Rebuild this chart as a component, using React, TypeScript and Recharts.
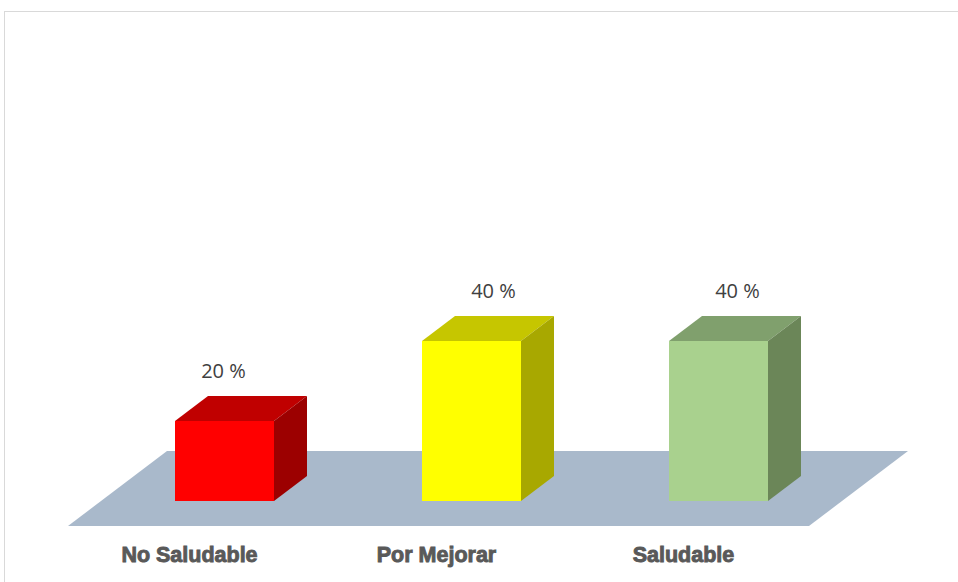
import React from 'react';
import { BarChart, Bar, XAxis, YAxis, ReferenceArea, LabelList } from 'recharts';

// Values
const categories = ['No Saludable', 'Por Mejorar', 'Saludable'];
const percentages = [20, 40, 40];
const tickValues = [0, 100];

const data = categories.map((name, i) => ({ name, value: percentages[i] }));

// front / top / side shades for each 3D box
const faces = [
  { front: '#ff0000', top: '#c00000', side: '#9c0000' },
  { front: '#ffff00', top: '#c6c600', side: '#a8a800' },
  { front: '#a9d18e', top: '#80a06d', side: '#6b8658' },
];

const DEPTH_X = 33;
const DEPTH_Y = 25;
const labelShift = [-1, 22, 19];

const Box3D = (props: any) => {
  const { x, y, width, height, index } = props;
  const c = faces[index] || faces[0];
  const r = x + width;
  const b = y + height;
  return (
    <g>
      <polygon
        points={`${x},${y} ${x + DEPTH_X},${y - DEPTH_Y} ${r + DEPTH_X},${y - DEPTH_Y} ${r},${y}`}
        fill={c.top}
      />
      <polygon
        points={`${r},${y} ${r + DEPTH_X},${y - DEPTH_Y} ${r + DEPTH_X},${b - DEPTH_Y} ${r},${b}`}
        fill={c.side}
      />
      <rect x={x} y={y} width={width} height={height} fill={c.front} />
    </g>
  );
};

// floor plane: runs from one box-depth in front of the bars to two behind
const Floor = (props: any) => {
  const { x, y, width, height } = props;
  const base = y + height;
  const topY = base - 2 * DEPTH_Y;
  const botY = base + DEPTH_Y;
  return (
    <polygon
      points={`${x + 2 * DEPTH_X},${topY} ${x + width + 2 * DEPTH_X},${topY} ${x + width - DEPTH_X},${botY} ${x - DEPTH_X},${botY}`}
      fill="#a9b9cb"
    />
  );
};

const ValueLabel = (props: any) => {
  const { x, y, width, value, index } = props;
  return (
    <text
      x={x + width / 2 + labelShift[index]}
      y={y - 51}
      textAnchor="middle"
      dominantBaseline="central"
      fontFamily="'Open Sans', sans-serif"
      fontSize={20}
      fill="#404040"
    >
      {`${value} %`}
    </text>
  );
};

const CategoryTick = (props: any) => {
  const { x, y, payload } = props;
  return (
    <text
      x={x - DEPTH_X - 2}
      y={y + 53}
      textAnchor="middle"
      fontFamily="'Liberation Sans', Arial, sans-serif"
      fontWeight="bold"
      fontSize={21.5}
      fill="#595959"
      stroke="#595959"
      strokeWidth={0.9}
    >
      {payload.value}
    </text>
  );
};

export default function App() {
  return (
    <div style={{ position: 'relative', width: 958, height: 582, overflow: 'hidden', background: '#fff' }}>
      <style>{'body{margin:0}'}</style>
      <div
        style={{
          position: 'absolute',
          left: 4,
          top: 11,
          width: 1000,
          height: 700,
          borderTop: '1px solid #d9d9d9',
          borderLeft: '1px solid #d9d9d9',
        }}
      />
      <div style={{ position: 'absolute', left: 0, top: 0 }}>
        <BarChart
          width={958}
          height={582}
          data={data}
          margin={{ top: 101, right: 116, left: 101, bottom: 21 }}
        >
          <XAxis dataKey="name" axisLine={false} tickLine={false} height={60} tick={<CategoryTick />} interval={0} />
          <YAxis hide domain={[tickValues[0], tickValues[1]]} ticks={tickValues} />
          <ReferenceArea y1={tickValues[0]} y2={tickValues[1]} shape={<Floor />} ifOverflow="visible" />
          <Bar dataKey="value" barSize={99} shape={<Box3D />} isAnimationActive={false}>
            <LabelList dataKey="value" content={<ValueLabel />} />
          </Bar>
        </BarChart>
      </div>
    </div>
  );
}
